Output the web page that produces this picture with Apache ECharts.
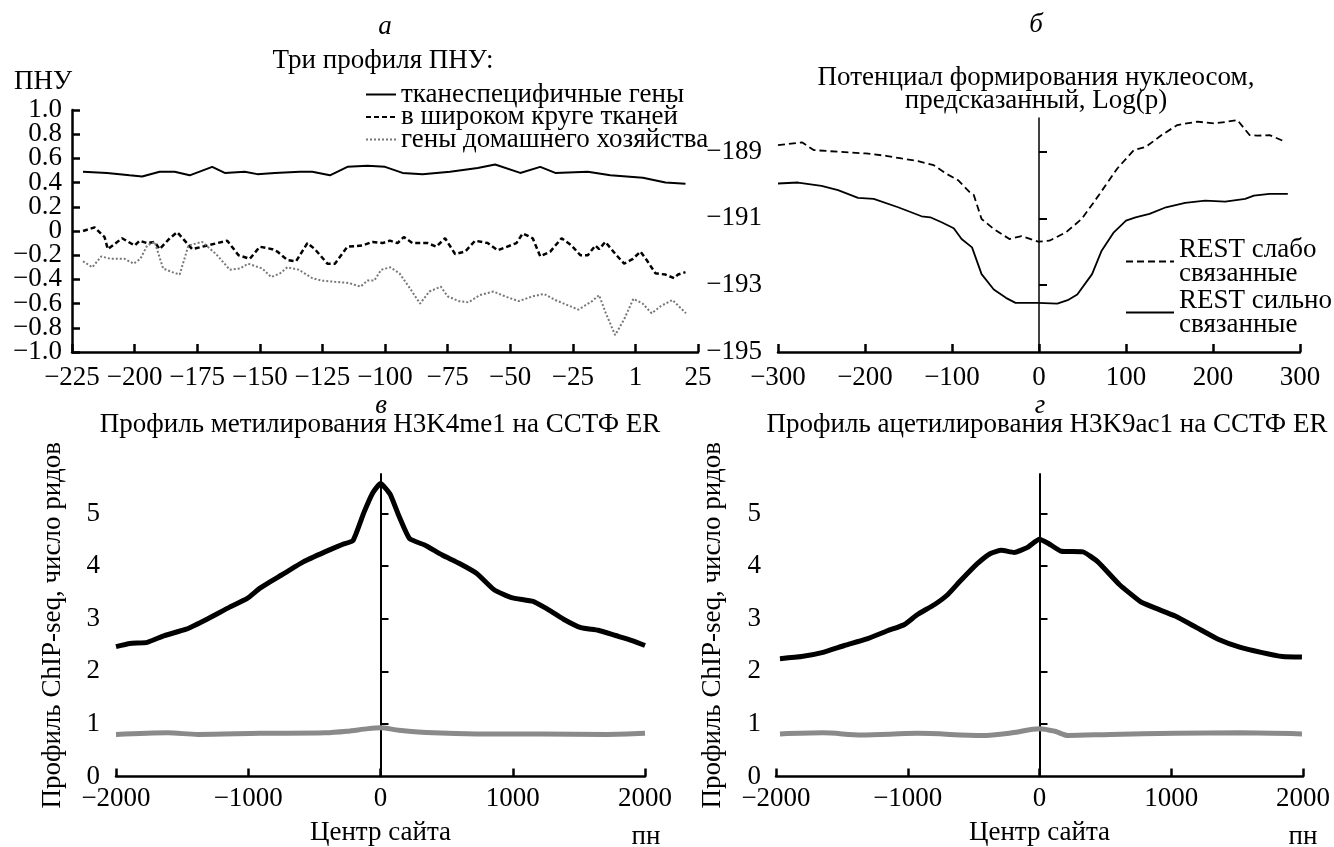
<!DOCTYPE html>
<html>
<head>
<meta charset="utf-8">
<script src="https://cdn.jsdelivr.net/npm/echarts@6/dist/echarts.min.js"></script>
<style>
  html, body { margin: 0; padding: 0; background: #fff; }
  #chart { width: 1334px; height: 847px; }
</style>
</head>
<body>
<div id="chart"></div>
<script>
// panel а: ПНУ profiles, [position, value]
var aTissue = [[-220.6,0.49],[-211,0.48],[-202,0.46],[-197,0.45],[-190,0.49],[-184,0.49],[-178,0.46],[-169,0.53],[-164,0.48],[-156,0.49],[-151,0.47],[-144,0.48],[-134,0.49],[-129,0.49],[-122,0.46],[-115,0.53],[-107,0.54],[-100,0.53],[-93,0.48],[-85,0.47],[-74,0.49],[-63,0.52],[-56,0.55],[-46,0.48],[-38,0.53],[-32,0.48],[-19,0.49],[-10,0.46],[3,0.44],[12,0.40],[20,0.39]];
var aBroad = [[-220.6,0.0],[-216,0.03],[-212,-0.05],[-210.7,-0.15],[-205,-0.06],[-200,-0.12],[-198,-0.08],[-195,-0.10],[-192,-0.09],[-190,-0.15],[-186,-0.06],[-183,-0.01],[-177,-0.15],[-173,-0.13],[-167,-0.10],[-163,-0.08],[-158.5,-0.20],[-154,-0.23],[-150,-0.13],[-145,-0.15],[-143,-0.17],[-139,-0.24],[-135.5,-0.25],[-131,-0.10],[-128,-0.15],[-123,-0.27],[-120,-0.27],[-115,-0.13],[-109,-0.12],[-105,-0.09],[-101,-0.10],[-98,-0.08],[-95,-0.10],[-92.5,-0.05],[-89,-0.10],[-83,-0.10],[-79.5,-0.13],[-76,-0.06],[-72,-0.19],[-68,-0.17],[-64,-0.08],[-59,-0.10],[-55,-0.16],[-50,-0.12],[-47.5,-0.10],[-45,-0.02],[-41,-0.06],[-38,-0.21],[-34,-0.17],[-29.5,-0.06],[-25.5,-0.12],[-22,-0.20],[-19,-0.20],[-16,-0.12],[-14.5,-0.15],[-12,-0.09],[-8,-0.19],[-4.5,-0.27],[-1,-0.23],[2,-0.17],[4.5,-0.24],[8,-0.35],[12,-0.36],[15.5,-0.39],[17,-0.36],[20,-0.34]];
var aHouse = [[-220.6,-0.25],[-216.9,-0.30],[-213.3,-0.21],[-209.6,-0.23],[-204,-0.23],[-200.4,-0.27],[-197.7,-0.23],[-195,-0.12],[-192,-0.09],[-188.6,-0.31],[-185,-0.34],[-182,-0.36],[-178.5,-0.12],[-173,-0.09],[-167.5,-0.19],[-162,-0.32],[-158,-0.31],[-154.7,-0.27],[-149,-0.31],[-145.5,-0.38],[-141.9,-0.35],[-139,-0.30],[-134.5,-0.32],[-129,-0.39],[-125.4,-0.41],[-120,-0.42],[-114.4,-0.43],[-109.8,-0.46],[-107,-0.41],[-104.3,-0.41],[-101.5,-0.32],[-97.9,-0.30],[-94.2,-0.35],[-90.5,-0.46],[-86,-0.60],[-82.3,-0.50],[-77.7,-0.46],[-75,-0.54],[-70.4,-0.58],[-66.7,-0.59],[-62.2,-0.53],[-56.7,-0.50],[-52.1,-0.54],[-46.6,-0.58],[-41.1,-0.54],[-36.5,-0.52],[-32,-0.57],[-27.4,-0.61],[-22.8,-0.65],[-17.3,-0.58],[-14.5,-0.53],[-11.8,-0.68],[-8.1,-0.86],[-4.5,-0.73],[-0.8,-0.56],[2.9,-0.60],[6.5,-0.68],[10.2,-0.62],[14.8,-0.57],[20.2,-0.68]];
var aNames = ['тканеспецифичные гены', 'в широком круге тканей', 'гены домашнего хозяйства'];

// panel б: nucleosome formation potential
var bWeak = [[-300,-188.81],[-272,-188.73],[-259,-188.96],[-231,-189.01],[-199,-189.06],[-176,-189.13],[-158,-189.21],[-139,-189.29],[-121,-189.41],[-107,-189.66],[-93,-189.86],[-80,-190.21],[-75,-190.3],[-66,-191.02],[-52,-191.32],[-34,-191.62],[-20,-191.53],[-1,-191.70],[12,-191.67],[31,-191.42],[49,-191.02],[63,-190.52],[77,-190.0],[90,-189.51],[109,-188.96],[123,-188.86],[141,-188.51],[159,-188.21],[182,-188.11],[201,-188.16],[214,-188.12],[228,-188.06],[242,-188.51],[251,-188.53],[265,-188.51],[283,-188.71]];
var bStrong = [[-300,-189.96],[-277,-189.93],[-250,-190.03],[-231,-190.16],[-208,-190.39],[-190,-190.42],[-162,-190.67],[-135,-190.94],[-125,-190.97],[-112,-191.12],[-98,-191.30],[-89,-191.62],[-77,-191.87],[-66,-192.67],[-52,-193.13],[-38,-193.38],[-27,-193.53],[-1,-193.53],[21,-193.55],[33,-193.45],[44,-193.28],[61,-192.67],[72,-191.97],[86,-191.42],[100,-191.07],[111,-190.97],[127,-190.87],[146,-190.67],[168,-190.54],[191,-190.47],[214,-190.50],[237,-190.42],[247,-190.32],[265,-190.27],[286,-190.27]];
var bNames = ['REST слабо\nсвязанные', 'REST сильно\nсвязанные'];

// panel в: H3K4me1, treatment and control
var cMain = [[-2000,2.47],[-1895,2.53],[-1764,2.55],[-1633,2.68],[-1469,2.80],[-1305,3.0],[-1141,3.22],[-1010,3.38],[-911,3.58],[-748,3.83],[-584,4.08],[-420,4.27],[-289,4.41],[-207,4.49],[-125,5.02],[-59,5.39],[0,5.57],[72,5.37],[138,4.96],[220,4.52],[334,4.40],[466,4.21],[597,4.05],[728,3.86],[859,3.55],[990,3.40],[1154,3.33],[1250,3.2],[1384,2.99],[1515,2.83],[1646,2.78],[1777,2.68],[1908,2.58],[2000,2.49]];
var cCtrl = [[-2000,0.80],[-1610,0.83],[-1380,0.80],[-910,0.82],[-420,0.83],[-255,0.86],[-92,0.91],[0,0.925],[138,0.88],[400,0.83],[728,0.81],[1220,0.81],[1711,0.80],[2000,0.82]];

// panel г: H3K9ac1
var dMain = [[-1970,2.24],[-1806,2.28],[-1643,2.36],[-1480,2.49],[-1317,2.61],[-1154,2.77],[-1024,2.89],[-926,3.08],[-796,3.27],[-700,3.45],[-600,3.72],[-470,4.05],[-372,4.24],[-290,4.30],[-192,4.26],[-95,4.35],[0,4.51],[68,4.43],[166,4.28],[329,4.27],[443,4.08],[606,3.65],[769,3.32],[880,3.2],[1030,3.05],[1193,2.83],[1356,2.61],[1519,2.46],[1682,2.36],[1845,2.28],[1992,2.27]];
var dCtrl = [[-1970,0.81],[-1643,0.83],[-1350,0.79],[-926,0.82],[-437,0.78],[-209,0.83],[0,0.91],[117,0.86],[215,0.78],[541,0.80],[1030,0.82],[1519,0.83],[1992,0.81]];

// tick labels (panel а labels split in two alternating sets so none get hidden)
var aTicks = [-1, -0.8, -0.6, -0.4, -0.2, 0, 0.2, 0.4, 0.6, 0.8, 1];
var aLabelTicksOdd = [-1, -0.6, -0.2, 0.2, 0.6, 1];
var aLabelTicksEven = [-0.8, -0.4, 0, 0.4, 0.8];
var bLabelTicks = [-195, -193, -191, -189];
var bZeroTicks = [-193, -191, -189];
var chipLabelTicks = [0, 1, 2, 3, 4, 5];
var chipZeroTicks = [1, 2, 3, 4, 5];

var FONT = 'Liberation Serif';
var FS = 27;

function minus(v) {
  if (Math.abs(v) < 1e-9) return '0';
  return (v < 0 ? '\u2212' : '') + Math.abs(v);
}
function pnuLabel(v) {
  if (Math.abs(v) < 1e-9) return '0';
  return (v < 0 ? '\u2212' : '') + Math.abs(v).toFixed(1);
}

var tickStyle = { inside: true, length: 8, lineStyle: { color: '#000', width: 2.5 } };
var lineStyleAxis = { show: true, onZero: false, lineStyle: { color: '#000', width: 2.5 } };
var labelStyle = { color: '#000', fontFamily: FONT, fontSize: FS, showMinLabel: true, showMaxLabel: true, hideOverlap: false };

function txt(x, y, text, extra) {
  var st = { text: text, fill: '#000', fontFamily: FONT, fontSize: FS, align: 'center', verticalAlign: 'middle' };
  for (var k in extra) st[k] = extra[k];
  return { type: 'text', x: x, y: y, style: st };
}

var myChart = echarts.init(document.getElementById('chart'));

var option = {
  animation: false,
  backgroundColor: '#fff',
  textStyle: { fontFamily: FONT },
  graphic: [
    txt(385, 27, 'а', { fontStyle: 'italic' }),
    txt(383, 61, 'Три профиля ПНУ:'),
    txt(1036, 25, 'б', { fontStyle: 'italic' }),
    txt(1036, 89, 'Потенциал формирования нуклеосом,\nпредсказанный, Log(p)', { lineHeight: 23 }),
    txt(381, 406, 'в', { fontStyle: 'italic' }),
    txt(380, 425, 'Профиль метилирования H3K4me1 на ССТФ ER'),
    txt(1040, 406, 'г', { fontStyle: 'italic' }),
    txt(1047, 425, 'Профиль ацетилирования H3K9ac1 на ССТФ ER'),
    txt(646, 837, 'пн'),
    txt(1303, 837, 'пн')
  ],
  legend: [
    {
      data: aNames,
      orient: 'vertical',
      left: 360, top: 76,
      itemGap: -4.5, itemWidth: 30, itemHeight: 10,
      itemStyle: { opacity: 0 },
      textStyle: { color: '#000', fontFamily: FONT, fontSize: FS, lineHeight: 22.5 }
    },
    {
      data: bNames,
      orient: 'vertical',
      left: 1120, top: 231,
      itemGap: 0, itemWidth: 48, itemHeight: 10,
      itemStyle: { opacity: 0 },
      textStyle: { color: '#000', fontFamily: FONT, fontSize: FS, lineHeight: 24 }
    }
  ],
  grid: [
    { left: 72, top: 110, width: 626, height: 242 },
    { left: 778, top: 118, width: 522, height: 234 },
    { left: 116, top: 474, width: 529, height: 307 },
    { left: 776, top: 474, width: 527, height: 307 }
  ],
  xAxis: [
    {
      gridIndex: 0, type: 'value', min: -225, max: 25, interval: 25,
      axisLine: lineStyleAxis, axisTick: tickStyle, splitLine: { show: false },
      axisLabel: Object.assign({ margin: 12, formatter: function (v) { return v === 0 ? '1' : minus(v); } }, labelStyle)
    },
    {
      gridIndex: 1, type: 'value', min: -300, max: 300, interval: 100,
      axisLine: lineStyleAxis, axisTick: tickStyle, splitLine: { show: false },
      axisLabel: Object.assign({ margin: 12, formatter: minus }, labelStyle)
    },
    {
      gridIndex: 2, type: 'value', min: -2000, max: 2000, interval: 1000,
      name: 'Центр сайта', nameLocation: 'middle', nameGap: 56,
      nameTextStyle: { color: '#000', fontFamily: FONT, fontSize: FS, verticalAlign: 'middle' },
      axisLine: lineStyleAxis, axisTick: tickStyle, splitLine: { show: false },
      axisLabel: Object.assign({ margin: 9, formatter: minus }, labelStyle)
    },
    {
      gridIndex: 3, type: 'value', min: -2000, max: 2000, interval: 1000,
      name: 'Центр сайта', nameLocation: 'middle', nameGap: 56,
      nameTextStyle: { color: '#000', fontFamily: FONT, fontSize: FS, verticalAlign: 'middle' },
      axisLine: lineStyleAxis, axisTick: tickStyle, splitLine: { show: false },
      axisLabel: Object.assign({ margin: 9, formatter: minus }, labelStyle)
    }
  ],
  yAxis: [
    {
      gridIndex: 0, type: 'value', position: 'left', min: -1, max: 1, interval: 0.2,
      name: 'ПНУ', nameLocation: 'end', nameGap: 28,
      nameTextStyle: { color: '#000', fontFamily: FONT, fontSize: FS, align: 'right', verticalAlign: 'middle' },
      axisLine: lineStyleAxis,
      axisTick: Object.assign({ customValues: aTicks }, tickStyle),
      splitLine: { show: false },
      axisLabel: Object.assign({ margin: 10, customValues: aLabelTicksOdd, formatter: pnuLabel }, labelStyle)
    },
    {
      gridIndex: 1, type: 'value', position: 'left', min: -195, max: -188,
      axisLine: { show: false, onZero: false }, axisTick: { show: false }, splitLine: { show: false },
      axisLabel: Object.assign({ margin: 16, customValues: bLabelTicks, formatter: minus }, labelStyle)
    },
    {
      gridIndex: 1, type: 'value', position: 'left', min: -195, max: -188,
      axisLine: { show: true, onZero: true, lineStyle: { color: '#000', width: 1.5 } },
      axisTick: { show: true, inside: true, length: 8, customValues: bZeroTicks, lineStyle: { color: '#000', width: 2 } },
      axisLabel: { show: false }, splitLine: { show: false }
    },
    {
      gridIndex: 2, type: 'value', position: 'left', min: 0, max: 5.75,
      name: 'Профиль ChIP-seq, число ридов', nameLocation: 'middle', nameGap: 63, nameRotate: 90,
      nameTextStyle: { color: '#000', fontFamily: FONT, fontSize: FS, verticalAlign: 'middle' },
      axisLine: { show: false, onZero: false }, axisTick: { show: false }, splitLine: { show: false },
      axisLabel: Object.assign({ margin: 16, customValues: chipLabelTicks }, labelStyle)
    },
    {
      gridIndex: 2, type: 'value', position: 'left', min: 0, max: 5.75,
      axisLine: { show: true, onZero: true, lineStyle: { color: '#000', width: 2 } },
      axisTick: { show: true, inside: true, length: 8, customValues: chipZeroTicks, lineStyle: { color: '#000', width: 2 } },
      axisLabel: { show: false }, splitLine: { show: false }
    },
    {
      gridIndex: 3, type: 'value', position: 'left', min: 0, max: 5.75,
      name: 'Профиль ChIP-seq, число ридов', nameLocation: 'middle', nameGap: 63, nameRotate: 90,
      nameTextStyle: { color: '#000', fontFamily: FONT, fontSize: FS, verticalAlign: 'middle' },
      axisLine: { show: false, onZero: false }, axisTick: { show: false }, splitLine: { show: false },
      axisLabel: Object.assign({ margin: 15, customValues: chipLabelTicks }, labelStyle)
    },
    {
      gridIndex: 3, type: 'value', position: 'left', min: 0, max: 5.75,
      axisLine: { show: true, onZero: true, lineStyle: { color: '#000', width: 2 } },
      axisTick: { show: true, inside: true, length: 8, customValues: chipZeroTicks, lineStyle: { color: '#000', width: 2 } },
      axisLabel: { show: false }, splitLine: { show: false }
    },
    {
      gridIndex: 0, type: 'value', position: 'left', min: -1, max: 1,
      axisLine: { show: false, onZero: false }, axisTick: { show: false }, splitLine: { show: false },
      axisLabel: { margin: 10, customValues: aLabelTicksEven, formatter: pnuLabel, color: '#000', fontFamily: FONT, fontSize: FS, hideOverlap: false }
    }
  ],
  series: [
    { name: aNames[0], type: 'line', xAxisIndex: 0, yAxisIndex: 0, data: aTissue, symbol: 'none',
      lineStyle: { color: '#000', width: 2 }, itemStyle: { color: '#000' } },
    { name: aNames[1], type: 'line', xAxisIndex: 0, yAxisIndex: 0, data: aBroad, symbol: 'none',
      lineStyle: { color: '#000', width: 2.5, type: [5, 3] }, itemStyle: { color: '#000' } },
    { name: aNames[2], type: 'line', xAxisIndex: 0, yAxisIndex: 0, data: aHouse, symbol: 'none',
      lineStyle: { color: '#777', width: 2, type: [2, 2] }, itemStyle: { color: '#777' } },
    { name: bNames[0], type: 'line', xAxisIndex: 1, yAxisIndex: 1, data: bWeak, symbol: 'none',
      lineStyle: { color: '#000', width: 1.8, type: [7, 4] }, itemStyle: { color: '#000' } },
    { name: bNames[1], type: 'line', xAxisIndex: 1, yAxisIndex: 1, data: bStrong, symbol: 'none',
      lineStyle: { color: '#000', width: 1.8 }, itemStyle: { color: '#000' } },
    { name: 'H3K4me1', type: 'line', xAxisIndex: 2, yAxisIndex: 3, data: cMain, symbol: 'none', smooth: 0.15,
      lineStyle: { color: '#000', width: 5, join: 'round' } },
    { name: 'H3K4me1 контроль', type: 'line', xAxisIndex: 2, yAxisIndex: 3, data: cCtrl, symbol: 'none', smooth: 0.3,
      lineStyle: { color: '#8a8a8a', width: 5 } },
    { name: 'H3K9ac1', type: 'line', xAxisIndex: 3, yAxisIndex: 5, data: dMain, symbol: 'none', smooth: 0.15,
      lineStyle: { color: '#000', width: 5, join: 'round' } },
    { name: 'H3K9ac1 контроль', type: 'line', xAxisIndex: 3, yAxisIndex: 5, data: dCtrl, symbol: 'none', smooth: 0.3,
      lineStyle: { color: '#8a8a8a', width: 5 } }
  ]
};

myChart.setOption(option);
</script>
</body>
</html>
